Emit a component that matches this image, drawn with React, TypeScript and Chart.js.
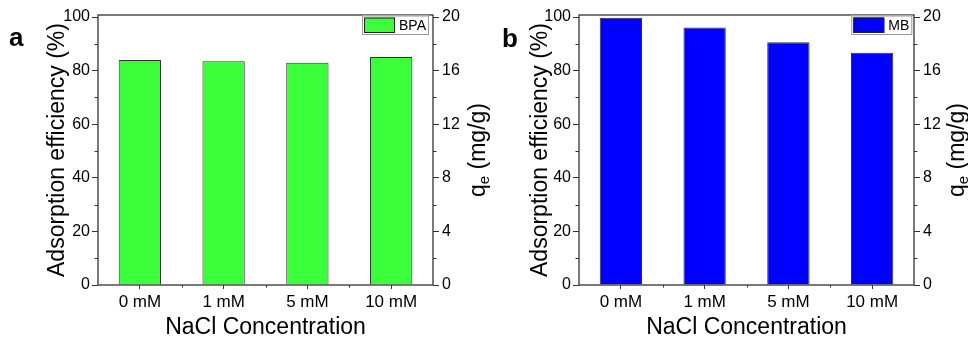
import React, { useEffect, useRef } from 'react';
import { Chart, registerables } from 'chart.js';

Chart.register(...registerables);

const categories = ['0 mM', '1 mM', '5 mM', '10 mM'];
const bpaEfficiency = [84.0, 83.5, 82.9, 85.1];
const mbEfficiency = [99.7, 96.1, 90.6, 86.7];
const effMin = 0;
const effMax = 100;
const effStep = 20;
const qeMin = 0;
const qeMax = 20;
const qeStep = 4;
const headroom = 0.0075; // frame sits slightly above the top tick

const FONT = '"Liberation Sans", Arial, Helvetica, sans-serif';

const decorPlugin = {
  id: 'decor',
  afterDraw(chart: any, _args: any, opts: any) {
    const { ctx, chartArea: ca, scales } = chart;
    const y = scales.y;
    const y1 = scales.y1;
    const x = scales.x;
    ctx.save();
    // frame
    ctx.strokeStyle = '#333';
    ctx.lineWidth = 1.3;
    ctx.strokeRect(ca.left, ca.top, ca.right - ca.left, ca.bottom - ca.top);

    // minor ticks
    ctx.lineWidth = 1;
    ctx.beginPath();
    const yt = y.ticks;
    for (let i = 0; i < yt.length - 1; i++) {
      const py = Math.round(y.getPixelForValue((yt[i].value + yt[i + 1].value) / 2)) + 0.5;
      ctx.moveTo(ca.left - 3.5, py);
      ctx.lineTo(ca.left, py);
    }
    const rt = y1.ticks;
    for (let i = 0; i < rt.length - 1; i++) {
      const py = Math.round(y1.getPixelForValue((rt[i].value + rt[i + 1].value) / 2)) + 0.5;
      ctx.moveTo(ca.right, py);
      ctx.lineTo(ca.right + 3.5, py);
    }
    for (let i = 0; i < categories.length - 1; i++) {
      const px = Math.round((x.getPixelForValue(i) + x.getPixelForValue(i + 1)) / 2) + 0.5;
      ctx.moveTo(px, ca.bottom);
      ctx.lineTo(px, ca.bottom + 2.5);
    }
    ctx.stroke();

    const cy = (ca.top + ca.bottom) / 2;
    ctx.fillStyle = '#000';

    // left title
    ctx.save();
    ctx.translate(opts.leftTitleX, cy);
    ctx.rotate(-Math.PI / 2);
    ctx.font = `23px ${FONT}`;
    ctx.textAlign = 'center';
    ctx.textBaseline = 'middle';
    ctx.fillText('Adsorption efficiency (%)', 0, 0);
    ctx.restore();

    // right title q_e (mg/g)
    ctx.save();
    ctx.translate(opts.rightTitleX, cy);
    ctx.rotate(-Math.PI / 2);
    ctx.textBaseline = 'middle';
    ctx.textAlign = 'left';
    ctx.font = `23px ${FONT}`;
    const wq = ctx.measureText('q').width;
    const wr = ctx.measureText(' (mg/g)').width;
    ctx.font = `15px ${FONT}`;
    const we = ctx.measureText('e').width;
    let sx = -(wq + we + wr) / 2;
    ctx.font = `23px ${FONT}`;
    ctx.fillText('q', sx, 0);
    sx += wq;
    ctx.font = `15px ${FONT}`;
    ctx.fillText('e', sx, 6);
    sx += we;
    ctx.font = `23px ${FONT}`;
    ctx.fillText(' (mg/g)', sx, 0);
    ctx.restore();

    // x title
    ctx.font = `23px ${FONT}`;
    ctx.textAlign = 'center';
    ctx.textBaseline = 'alphabetic';
    ctx.fillText('NaCl Concentration', (ca.left + ca.right) / 2, opts.xTitleY);

    // legend
    const ds = chart.data.datasets[0];
    ctx.font = `14px ${FONT}`;
    const tw = ctx.measureText(ds.label).width;
    const sw = 31;
    const lw = 2 + sw + 4 + tw + 3;
    const lh = 19.5;
    const lx = ca.right - opts.legendRight - lw;
    const ly = ca.top + 0.5;
    ctx.fillStyle = '#fff';
    ctx.fillRect(lx, ly, lw, lh);
    ctx.strokeStyle = '#999';
    ctx.lineWidth = 1;
    ctx.strokeRect(lx + 0.5, ly + 0.5, lw - 1, lh - 1);
    ctx.fillStyle = ds.backgroundColor;
    ctx.fillRect(lx + 2, ly + 2, sw, lh - 4);
    ctx.strokeStyle = '#222';
    ctx.strokeRect(lx + 2.5, ly + 2.5, sw - 1, lh - 5);
    ctx.fillStyle = '#000';
    ctx.textAlign = 'left';
    ctx.textBaseline = 'middle';
    ctx.fillText(ds.label, lx + 2 + sw + 4, ly + lh / 2 + 0.5);

    // panel letter
    ctx.font = `bold 26px ${FONT}`;
    ctx.textAlign = 'left';
    ctx.textBaseline = 'alphabetic';
    ctx.fillText(opts.letter, opts.letterX, opts.letterY);

    ctx.restore();
  },
};

function keepUpTo(limit: number) {
  return (s: any) => {
    s.ticks = s.ticks.filter((t: any) => t.value <= limit + 1e-9);
  };
}

function makeConfig(label: string, values: number[], color: string, p: any) {
  return {
    type: 'bar' as const,
    data: {
      labels: categories,
      datasets: [
        {
          label,
          data: values,
          backgroundColor: color,
          borderColor: '#333',
          borderWidth: 1,
          barPercentage: 0.505,
          categoryPercentage: 1,
          xAxisID: 'x',
          yAxisID: 'y',
        },
      ],
    },
    options: {
      responsive: false,
      animation: false,
      devicePixelRatio: 1,
      layout: { padding: { top: 15, left: 0, right: 0, bottom: 0 } },
      plugins: {
        legend: { display: false },
        tooltip: { enabled: false },
        decor: p,
      },
      scales: {
        x: {
          type: 'category',
          offset: true,
          grid: { offset: false, drawOnChartArea: false, tickLength: 4, color: '#333', tickColor: '#333' },
          border: { display: false },
          ticks: { font: { family: FONT, size: 17 }, color: '#000', padding: 3, maxRotation: 0, autoSkip: false },
          afterFit: (s: any) => { s.height = 53; },
        },
        y: {
          position: 'left',
          min: effMin,
          max: effMax * (1 + headroom),
          afterBuildTicks: keepUpTo(effMax),
          ticks: { stepSize: effStep, includeBounds: false, font: { family: FONT, size: 16 }, color: '#000', padding: 2 },
          grid: { drawOnChartArea: false, tickLength: 6, color: '#333', tickColor: '#333' },
          border: { display: false },
          afterFit: (s: any) => { s.width = p.leftW; },
        },
        y1: {
          position: 'right',
          display: true,
          min: qeMin,
          max: qeMax * (1 + headroom),
          afterBuildTicks: keepUpTo(qeMax),
          ticks: { stepSize: qeStep, includeBounds: false, font: { family: FONT, size: 16 }, color: '#000', padding: 3 },
          grid: { drawOnChartArea: false, tickLength: 6, color: '#333', tickColor: '#333' },
          border: { display: false },
          afterFit: (s: any) => { s.width = p.rightW; },
        },
      },
    },
    plugins: [decorPlugin],
  };
}

export default function App() {
  const refA = useRef<HTMLCanvasElement>(null);
  const refB = useRef<HTMLCanvasElement>(null);

  useEffect(() => {
    const a = new Chart(refA.current as HTMLCanvasElement, makeConfig('BPA', bpaEfficiency, '#3cff3c', {
      leftW: 98, rightW: 67, leftTitleX: 58, rightTitleX: 479, xTitleY: 334,
      legendRight: 4, letter: 'a', letterX: 9, letterY: 46,
    }) as any);
    const b = new Chart(refB.current as HTMLCanvasElement, makeConfig('MB', mbEfficiency, '#0000ff', {
      leftW: 95, rightW: 54, leftTitleX: 57, rightTitleX: 474, xTitleY: 334,
      legendRight: 1.7, letter: 'b', letterX: 18, letterY: 47,
    }) as any);
    return () => { a.destroy(); b.destroy(); };
  }, []);

  return (
    <div style={{ position: 'fixed', left: 0, top: 0, width: 968, height: 338, background: '#fff', overflow: 'hidden' }}>
      <canvas ref={refA} width={500} height={338} style={{ position: 'absolute', left: 0, top: 0, width: 500, height: 338 }} />
      <canvas ref={refB} width={484} height={338} style={{ position: 'absolute', left: 484, top: 0, width: 484, height: 338 }} />
    </div>
  );
}
